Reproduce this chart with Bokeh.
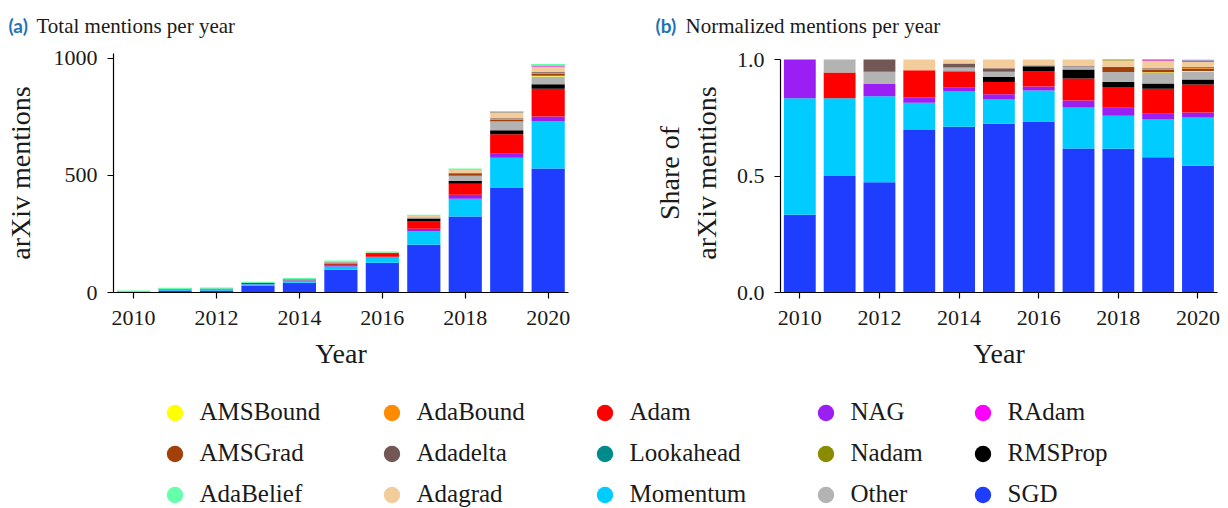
from bokeh.plotting import figure
from bokeh.layouts import column, row
from bokeh.models import (ColumnDataSource, Range1d, FixedTicker, NumeralTickFormatter,
                          Legend, LegendItem)
from bokeh.core.properties import value
from bokeh.embed import file_html
from bokeh.resources import INLINE

years = [2010, 2011, 2012, 2013, 2014, 2015, 2016, 2017, 2018, 2019, 2020]

# arXiv mentions per optimizer and year (stacked bottom to top in this order)
sgd       = [2, 9, 9, 30, 42, 97, 127, 204, 325, 449, 530]
momentum  = [3, 6, 7, 5, 9, 14, 23, 58, 75, 127, 202]
nag       = [1, 0, 1, 1, 1, 3, 3, 10, 18, 17, 20]
adam      = [0, 2, 0, 5, 4, 7, 11, 31, 47, 83, 118]
rmsprop   = [0, 0, 0, 0, 0, 3, 4, 13, 11, 17, 20]
other     = [0, 1, 1, 0, 1, 3, 1, 4, 23, 36, 33]
amsbound  = [0, 0, 0, 0, 0, 0, 0, 0, 0, 2, 3]
amsgrad   = [0, 0, 0, 0, 0, 0, 0, 0, 9, 8, 10]
adabound  = [0, 0, 0, 0, 0, 0, 0, 0, 0, 2, 3]
adadelta  = [0, 0, 1, 0, 1, 2, 0, 1, 2, 3, 4]
adagrad   = [0, 0, 0, 2, 1, 5, 4, 9, 15, 24, 21]
nadam     = [0, 0, 0, 0, 0, 0, 0, 0, 2, 2, 1]
radam     = [0, 0, 0, 0, 0, 0, 0, 0, 0, 3, 5]
lookahead = [0, 0, 0, 0, 0, 0, 0, 0, 0, 0, 1]
adabelief = [0, 0, 0, 0, 0, 0, 0, 0, 0, 0, 3]

stack_names = ["SGD", "Momentum", "NAG", "Adam", "RMSProp", "Other", "AMSBound",
               "AMSGrad", "AdaBound", "Adadelta", "Adagrad", "Nadam", "RAdam",
               "Lookahead", "AdaBelief"]
stack_values = [sgd, momentum, nag, adam, rmsprop, other, amsbound, amsgrad,
                adabound, adadelta, adagrad, nadam, radam, lookahead, adabelief]

colors = {
    "AMSBound": "#ffff00", "AdaBound": "#ff8c00", "Adam": "#ff0000",
    "NAG": "#9b1ff2", "RAdam": "#ff00ff", "AMSGrad": "#a33f0a",
    "Adadelta": "#735757", "Lookahead": "#008b8b", "Nadam": "#8b8b00",
    "RMSProp": "#000000", "AdaBelief": "#66ffaa", "Adagrad": "#f2cd9b",
    "Momentum": "#00ccff", "Other": "#b3b3b3", "SGD": "#1f3dff",
}

# legend order (alphabetical, filled column by column)
legend_names = ["AMSBound", "AMSGrad", "AdaBelief", "AdaBound", "Adadelta", "Adagrad",
                "Adam", "Lookahead", "Momentum", "NAG", "Nadam", "Other",
                "RAdam", "RMSProp", "SGD"]

x_ticks = [2010, 2012, 2014, 2016, 2018, 2020]
left_y_ticks = [0, 500, 1000]
right_y_ticks = [0.0, 0.5, 1.0]

panel_tags = ["(a)", "(b)"]
panel_titles = ["Total mentions per year", "Normalized mentions per year"]

SERIF = "Liberation Serif"
TXT = "#1a1a1a"

totals = [sum(v[i] for v in stack_values) for i in range(len(years))]
data = {"year": years}
share = {"year": years}
for name, vals in zip(stack_names, stack_values):
    data[name] = vals
    share[name] = [v / t for v, t in zip(vals, totals)]
src_abs = ColumnDataSource(data)
src_rel = ColumnDataSource(share)


def style_axes(p, ytick_list):
    p.grid.visible = False
    p.outline_line_color = None
    for ax in (p.xaxis[0], p.yaxis[0]):
        ax.axis_line_color = "black"
        ax.axis_line_width = 1.2
        ax.major_tick_line_color = "black"
        ax.major_tick_line_width = 1.2
        ax.major_tick_out = 6
        ax.major_tick_in = 0
        ax.minor_tick_line_color = None
        ax.major_label_text_font = SERIF
        ax.major_label_text_font_size = "22px"
        ax.major_label_text_color = TXT
        ax.axis_label_text_font = SERIF
        ax.axis_label_text_font_style = "normal"
        ax.axis_label_text_font_size = "28px"
        ax.axis_label_text_color = TXT
    p.xaxis.ticker = FixedTicker(ticks=x_ticks)
    p.yaxis.ticker = FixedTicker(ticks=ytick_list)
    p.xaxis.axis_label = "Year"
    p.xaxis.major_label_standoff = 12
    p.xaxis.axis_label_standoff = 10
    p.yaxis.major_label_standoff = 10


# panel headings strip
header = figure(width=1228, height=40, x_range=Range1d(0, 1228), y_range=Range1d(0, 40),
                toolbar_location=None, output_backend="svg", x_axis_type=None,
                y_axis_type=None, min_border=0)
header.grid.visible = False
header.outline_line_color = None
header.text(x=[8, 655], y=[15, 15], text=panel_tags, text_font=value("Lato"),
            text_font_style="bold", text_font_size="19px", text_color="#2272b4",
            text_baseline="alphabetic")
header.text(x=[36, 685], y=[15, 15], text=panel_titles, text_font=value(SERIF),
            text_font_size="21px", text_color=TXT, text_baseline="alphabetic")

# (a) total mentions per year
p1 = figure(width=640, height=335, x_range=Range1d(2009.515, 2020.49),
            y_range=Range1d(0, 1021), toolbar_location=None, output_backend="svg",
            min_border_left=113, min_border_right=72, min_border_top=13,
            min_border_bottom=83)
r1 = p1.vbar_stack(stack_names, x="year", width=0.8, source=src_abs,
                   color=[colors[n] for n in stack_names], line_color=None)
# top segment keeps a hairline outline
r1[-1].glyph.line_color = colors["AdaBelief"]
r1[-1].glyph.line_width = 1.2
style_axes(p1, left_y_ticks)
p1.yaxis.axis_label = "arXiv mentions"
p1.yaxis.axis_label_standoff = 15

# (b) normalized mentions per year
p2 = figure(width=588, height=335, x_range=Range1d(2009.515, 2020.49),
            y_range=Range1d(0, 239 / 233), toolbar_location=None, output_backend="svg",
            min_border_left=140, min_border_right=11, min_border_top=13,
            min_border_bottom=83)
p2.vbar_stack(stack_names, x="year", width=0.8, source=src_rel,
              color=[colors[n] for n in stack_names], line_color=None)
style_axes(p2, right_y_ticks)
p2.yaxis.bounds = (0, 1)
p2.yaxis.formatter = NumeralTickFormatter(format="0.0")
p2.yaxis.axis_label = "Share of\narXiv mentions"
p2.yaxis.axis_label_standoff = 12

# shared legend underneath both panels
p3 = figure(width=1228, height=133, x_range=Range1d(0, 1), y_range=Range1d(0, 1),
            toolbar_location=None, output_backend="svg", x_axis_type=None,
            y_axis_type=None, min_border=0)
p3.grid.visible = False
p3.outline_line_color = None
dummy = {}
for n in legend_names:
    dummy[n] = p3.scatter(x=[-10], y=[-10], marker="circle", size=16,
                          color=colors[n], line_color=None)

col_x = [153.5, 370.5, 583.5, 804.5, 961.5]
for c in range(5):
    names = legend_names[3 * c:3 * c + 3]
    leg = Legend(items=[LegendItem(label=n, renderers=[dummy[n]]) for n in names],
                 location=(col_x[c], -6.5), orientation="vertical",
                 glyph_width=41, glyph_height=41, label_height=41, spacing=0,
                 padding=0, margin=0, label_standoff=5,
                 label_text_font=SERIF, label_text_font_size="25px",
                 label_text_color=TXT, border_line_color=None,
                 background_fill_alpha=0)
    p3.add_layout(leg, "center")

layout = column(header, row(p1, p2), p3)
open("out.html", "w").write(file_html(layout, INLINE))
